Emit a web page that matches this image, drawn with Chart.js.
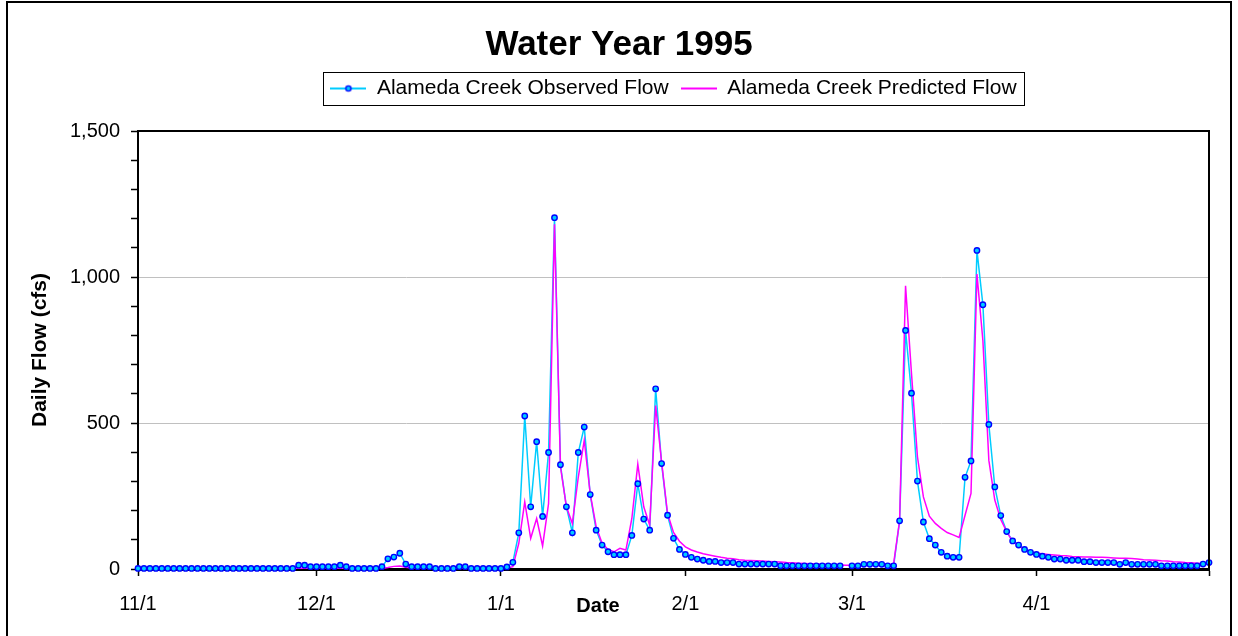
<!DOCTYPE html>
<html>
<head>
<meta charset="utf-8">
<title>Water Year 1995</title>
<script src="https://cdn.jsdelivr.net/npm/chart.js@4.4.1/dist/chart.umd.min.js"></script>
<style>
  html, body { margin: 0; padding: 0; background: #fff; }
  #wrap { width: 1238px; height: 636px; }
</style>
</head>
<body>
<div id="wrap"><canvas id="chart" width="1238" height="636"></canvas></div>
<script>
// daily flow in cfs, one value per day from 11/1/1994 to 4/30/1995
var observed = [
    2, 2, 2, 2, 2, 2, 2, 2, 2, 2, 2, 2, 2, 2, 2, 2, 2, 2, 2, 2, 2, 2, 2, 2, 2, 2, 2,   // 11/1 - 11/27
    13, 13, 8, 8, 8, 8, 8, 13, 8,
    2, 2, 2, 2, 2,
    8, 35, 41, 54, 17,
    8, 8, 8, 8,
    2, 2, 2, 2,
    8, 8,
    2, 2, 2, 2, 2, 2,                                  // to 1/1
    7, 23, 124, 524, 213, 436, 180, 399, 1203, 357,
    213, 124, 399, 486, 255, 133, 82, 59, 49, 49,
    49, 115, 292, 171, 133, 617, 361, 184, 105, 67,
    50, 40, 34, 30, 26, 26, 22, 22, 22,                // from 2/1
    17, 17, 17, 17, 17, 17, 17,
    11, 11, 11, 11, 11, 11, 11, 11, 11, 11, 11,
    null,                                              // 2/28 missing
    11, 11, 16, 16, 16, 16, 11, 11,                    // from 3/1
    165, 817, 602, 301, 161, 104, 82, 57, 44, 40,
    40, 314, 370, 1091, 905, 495, 281, 183, 128, 96,
    82, 67, 57, 50, 44, 40, 34, 34, 30, 30,            // 4/1 is the 4th
    30, 25, 25, 22, 22, 22, 22, 16, 22, 16,
    16, 16, 16, 16, 11, 11, 11, 11, 11, 11,
    11, 17, 22
];

var predicted = [
    1, 1, 1, 1, 1, 1, 1, 1, 1, 1, 1, 1, 1, 1, 1, 1, 1, 1, 1, 1, 1, 1, 1, 1, 1, 1, 1,
    2, 2, 2, 2, 2, 2, 2, 2, 2, 2, 2, 2, 2, 2, 2,
    5, 9, 10, 6, 3,
    2, 2, 2, 2, 2, 2, 2, 2, 2, 2, 2, 2, 2, 2, 2,
    3, 8, 88, 230, 105, 173, 79, 224, 1181, 350,
    213, 156, 315, 441, 258, 145, 88, 67, 59, 71,
    65, 173, 359, 213, 150, 560, 367, 190, 125, 95,
    76, 65, 58, 52, 48, 44, 40, 37, 35, 32,
    30, 29, 28, 27, 26, 25, 24, 22, 21, 20,
    19, 18, 17, 16, 15, 14, 14, 13, 13, 13,
    13, 13, 13, 13, 13, 19, 165, 970, 669, 384,
    247, 181, 156, 139, 125, 117, 108, 184, 259, 1010,
    782, 372, 236, 170, 128, 94, 79, 67, 59,
    54, 52, 50, 48, 46, 45, 43, 42, 41, 41,
    40, 40, 39, 38, 37, 37, 36, 34, 32, 31,
    30, 28, 27, 25, 24, 22, 21, 20, 19, 19
];

var tickLabels = ['11/1', '12/1', '1/1', '2/1', '3/1', '4/1'];

var dates = [];
for (var d = new Date(1994, 10, 1); d <= new Date(1995, 3, 30); d.setDate(d.getDate() + 1)) {
    dates.push((d.getMonth() + 1) + '/' + d.getDate());
}

Chart.defaults.font.family = '"Liberation Sans", Arial, sans-serif';
Chart.defaults.color = '#000';

function legendIcon(color, marker) {
    var c = document.createElement('canvas');
    c.width = 36; c.height = 12;
    var g = c.getContext('2d');
    g.strokeStyle = color;
    g.lineWidth = 2;
    g.beginPath(); g.moveTo(0, 6); g.lineTo(36, 6); g.stroke();
    if (marker) {
        g.beginPath();
        g.arc(18, 6, 2.6, 0, Math.PI * 2);
        g.fillStyle = '#00ccff';
        g.fill();
        g.lineWidth = 1.4;
        g.strokeStyle = '#0000ff';
        g.stroke();
    }
    return c;
}
var obsIcon = legendIcon('#00ccff', true);
var predIcon = legendIcon('#ff00ff', false);

function isTick(i) {
    return tickLabels.indexOf(dates[i]) >= 0 || i === dates.length - 1;
}

var frame = {
    id: 'frame',
    beforeDraw: function (chart) {
        var ctx = chart.ctx;
        ctx.save();
        ctx.fillStyle = '#fff';
        ctx.fillRect(0, 0, chart.width, chart.height);
        ctx.restore();
    },
    afterDraw: function (chart) {
        var ctx = chart.ctx, a = chart.chartArea;
        ctx.save();
        ctx.strokeStyle = '#000';
        ctx.lineWidth = 2;
        ctx.strokeRect(7, 2, 1224, 700);

        ctx.beginPath();
        ctx.moveTo(a.left, a.top);
        ctx.lineTo(a.right, a.top);
        ctx.lineTo(a.right, a.bottom);
        ctx.stroke();

        var hb = chart.legend.legendHitBoxes;
        if (hb && hb.length) {
            var l = Math.min.apply(null, hb.map(function (h) { return h.left; }));
            var r = Math.max.apply(null, hb.map(function (h) { return h.left + h.width; }));
            var t = hb[0].top, b = hb[0].top + hb[0].height;
            ctx.lineWidth = 1;
            ctx.strokeRect(Math.round(l - 7) + 0.5, Math.round(t - 6) + 0.5, Math.round(r - l + 15), Math.round(b - t + 12));
        }

        ctx.fillStyle = '#000';
        ctx.font = 'bold 20px "Liberation Sans", Arial, sans-serif';
        ctx.textAlign = 'center';
        ctx.textBaseline = 'middle';
        ctx.fillText('Date', 598, 606);
        ctx.restore();
    }
};

var ctx = document.getElementById('chart').getContext('2d');
var chart = new Chart(ctx, {
    type: 'line',
    data: {
        labels: dates,
        datasets: [{
            label: 'Alameda Creek Observed Flow',
            data: observed,
            xAxisID: 'x',
            yAxisID: 'y',
            showLine: false,
            pointRadius: 2.7,
            pointBorderWidth: 1.4,
            pointBackgroundColor: '#00ccff',
            pointBorderColor: '#0000ff',
            clip: false,
            order: 0
        }, {
            label: 'Alameda Creek Predicted Flow',
            data: predicted,
            xAxisID: 'x',
            yAxisID: 'y',
            borderColor: '#ff00ff',
            borderWidth: 1.5,
            pointRadius: 0,
            tension: 0,
            order: 1
        }, {
            label: 'observed line',
            data: observed,
            xAxisID: 'x',
            yAxisID: 'y',
            borderColor: '#00ccff',
            borderWidth: 1.5,
            pointRadius: 0,
            tension: 0,
            spanGaps: false,
            order: 2
        }]
    },
    options: {
        responsive: false,
        animation: false,
        devicePixelRatio: 1,
        layout: { padding: 0 },
        plugins: {
            tooltip: { enabled: false },
            title: {
                display: true,
                text: 'Water Year 1995',
                font: { size: 35, weight: 'bold' },
                color: '#000',
                padding: { top: 24, bottom: 0 }
            },
            legend: {
                position: 'top',
                fullSize: false,
                labels: {
                    usePointStyle: true,
                    pointStyleWidth: 36,
                    padding: 12,
                    font: { size: 21 },
                    color: '#000',
                    generateLabels: function () {
                        return [
                            { text: 'Alameda Creek Observed Flow', pointStyle: obsIcon, fillStyle: 'transparent', strokeStyle: 'transparent', lineWidth: 0, hidden: false, datasetIndex: 0 },
                            { text: 'Alameda Creek Predicted Flow', pointStyle: predIcon, fillStyle: 'transparent', strokeStyle: 'transparent', lineWidth: 0, hidden: false, datasetIndex: 1 }
                        ];
                    }
                }
            }
        },
        scales: {
            x: {
                type: 'category',
                offset: false,
                grid: {
                    drawOnChartArea: false,
                    tickLength: 7,
                    tickWidth: 1.5,
                    tickColor: function (c) { return isTick(c.index) ? '#000' : 'transparent'; }
                },
                border: { color: '#000', width: 3 },
                ticks: {
                    autoSkip: false,
                    maxRotation: 0,
                    padding: 16,
                    font: { size: 20 },
                    color: '#000',
                    callback: function (v, i) { return tickLabels.indexOf(dates[i]) >= 0 ? dates[i] : ''; }
                },
                afterFit: function (s) { s.height = 67; }
            },
            top: {
                type: 'category',
                position: 'top',
                grid: { display: false },
                ticks: { display: false },
                border: { display: false },
                afterFit: function (s) { s.height = 22; }
            },
            y: {
                min: 0,
                max: 1500,
                ticks: {
                    stepSize: 100,
                    autoSkip: false,
                    padding: 11,
                    font: { size: 20 },
                    color: '#000',
                    callback: function (v) { return v % 500 === 0 ? v.toLocaleString('en-US') : ''; }
                },
                grid: {
                    color: function (c) {
                        var v = c.tick ? c.tick.value : -1;
                        return (v === 500 || v === 1000) ? '#c0c0c0' : 'transparent';
                    },
                    tickColor: '#000',
                    tickLength: 7,
                    tickWidth: 1.5,
                    lineWidth: 1
                },
                border: { color: '#000', width: 2 },
                title: {
                    display: true,
                    text: 'Daily Flow (cfs)',
                    font: { size: 21, weight: 'bold' },
                    color: '#000',
                    padding: { top: 28, bottom: 0 }
                },
                afterFit: function (s) { s.width = 138; }
            },
            right: {
                type: 'linear',
                position: 'right',
                min: 0,
                max: 1500,
                grid: { display: false },
                ticks: { display: false },
                border: { display: false },
                afterFit: function (s) { s.width = 29; }
            }
        }
    },
    plugins: [frame]
});
</script>
</body>
</html>
